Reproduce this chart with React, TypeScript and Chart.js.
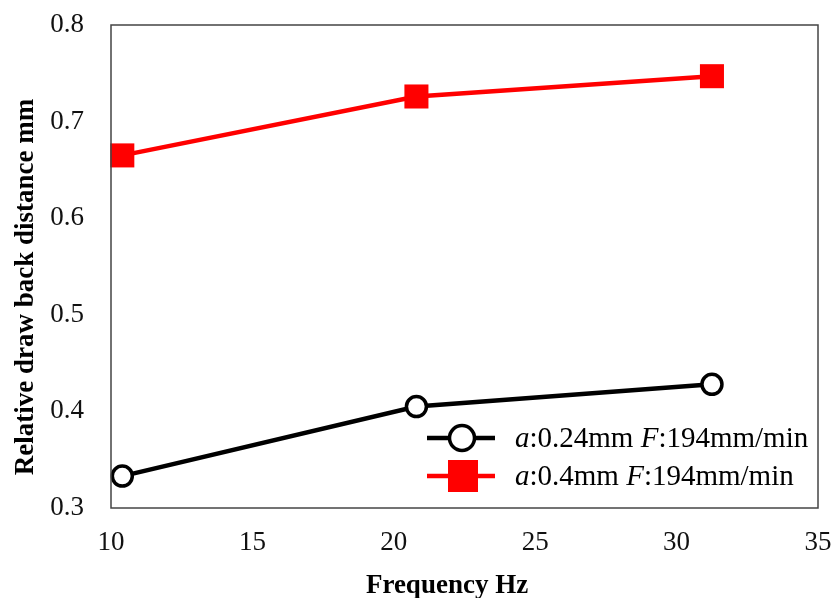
import React, { useEffect, useRef } from "react";
import { Chart, registerables } from "chart.js";

Chart.register(...registerables);

const frequencies = [10.4, 20.8, 31.25];
const seriesDepth = ["0.24", "0.4"];
const seriesFeed = ["194", "194"];
const distance024 = [0.333, 0.405, 0.428];
const distance04 = [0.665, 0.726, 0.747];
const xTickRange = [10, 35, 5];
const yTickRange = [0.3, 0.8, 0.1];
const xTitle = "Frequency Hz";
const yTitle = "Relative draw back distance mm";

const SERIF = '"Liberation Serif", "Times New Roman", serif';

const decorPlugin = {
  id: "decor",
  afterDraw(chart: any) {
    const { ctx, chartArea } = chart;
    ctx.save();
    // plot frame
    ctx.strokeStyle = "#444";
    ctx.lineWidth = 1.5;
    ctx.strokeRect(chartArea.left, chartArea.top, chartArea.right - chartArea.left, chartArea.bottom - chartArea.top);

    // axis titles
    ctx.fillStyle = "#000";
    ctx.font = `bold 27px ${SERIF}`;
    ctx.textAlign = "center";
    ctx.textBaseline = "alphabetic";
    ctx.fillText(xTitle, 447, 593);
    ctx.save();
    ctx.translate(33, 287);
    ctx.rotate(-Math.PI / 2);
    ctx.fillText(yTitle, 0, 0);
    ctx.restore();

    // legend
    const rows = [438, 476];
    chart.data.datasets.forEach((ds: any, i: number) => {
      const y = rows[i];
      ctx.strokeStyle = ds.borderColor;
      ctx.lineWidth = 4.5;
      ctx.beginPath();
      ctx.moveTo(427, y);
      ctx.lineTo(495, y);
      ctx.stroke();
      if (i === 0) {
        ctx.beginPath();
        ctx.arc(462, y, 12.5, 0, Math.PI * 2);
        ctx.fillStyle = "#fff";
        ctx.fill();
        ctx.lineWidth = 3.5;
        ctx.strokeStyle = "#000";
        ctx.stroke();
      } else {
        ctx.fillStyle = ds.borderColor;
        ctx.fillRect(448, y - 16, 30, 32);
      }
      const parts: [string, boolean][] = [
        ["a", true],
        [":" + seriesDepth[i] + "mm ", false],
        ["F", true],
        [":" + seriesFeed[i] + "mm/min", false],
      ];
      let x = 515;
      ctx.textAlign = "left";
      ctx.textBaseline = "middle";
      ctx.fillStyle = "#000";
      for (const [t, it] of parts) {
        ctx.font = `${it ? "italic " : ""}29px ${SERIF}`;
        ctx.fillText(t, x, y + 1);
        x += ctx.measureText(t).width;
      }
    });
    ctx.restore();
  },
};

export default function App() {
  const ref = useRef<HTMLCanvasElement>(null);
  useEffect(() => {
    document.body.style.margin = "0";
    const chart = new Chart(ref.current!, {
      type: "line",
      data: {
        datasets: [
          {
            label: `a:${seriesDepth[0]}mm F:${seriesFeed[0]}mm/min`,
            data: frequencies.map((x, i) => ({ x, y: distance024[i] })),
            borderColor: "#000",
            backgroundColor: "#fff",
            borderWidth: 4.5,
            pointStyle: "circle",
            pointRadius: 10,
            pointBorderWidth: 3.5,
            pointBackgroundColor: "#fff",
            pointBorderColor: "#000",
            clip: false,
          },
          {
            label: `a:${seriesDepth[1]}mm F:${seriesFeed[1]}mm/min`,
            data: frequencies.map((x, i) => ({ x, y: distance04[i] })),
            borderColor: "#ff0000",
            backgroundColor: "#ff0000",
            borderWidth: 4.5,
            pointStyle: "rect",
            pointRadius: 17,
            pointBorderWidth: 0,
            pointBackgroundColor: "#ff0000",
            pointBorderColor: "#ff0000",
            clip: false,
          },
        ],
      },
      options: {
        animation: false,
        responsive: false,
        layout: { padding: { top: 25, right: 13, left: 0, bottom: 0 } },
        plugins: { legend: { display: false }, tooltip: { enabled: false } },
        scales: {
          x: {
            type: "linear",
            min: xTickRange[0],
            max: xTickRange[1],
            ticks: {
              stepSize: xTickRange[2],
              padding: 19,
              color: "#111",
              font: { family: SERIF, size: 27 },
            },
            grid: { display: false, drawTicks: false },
            border: { display: false },
            afterFit: (s: any) => {
              s.height = 90;
              s.paddingLeft = 0;
              s.paddingRight = 0;
              s.paddingTop = 0;
              s.paddingBottom = 0;
            },
          },
          y: {
            type: "linear",
            min: yTickRange[0],
            max: yTickRange[1],
            ticks: {
              stepSize: yTickRange[2],
              padding: 27,
              color: "#111",
              font: { family: SERIF, size: 27 },
              callback: (v: any) => Number(v).toFixed(1),
            },
            grid: { display: false, drawTicks: false },
            border: { display: false },
            afterFit: (s: any) => {
              s.width = 111;
              s.paddingLeft = 0;
              s.paddingRight = 0;
              s.paddingTop = 0;
              s.paddingBottom = 0;
            },
          },
        },
      },
      plugins: [decorPlugin],
    });
    return () => chart.destroy();
  }, []);
  return (
    <div style={{ width: 835, height: 598 }}>
      <canvas ref={ref} width={835} height={598} style={{ display: "block" }} />
    </div>
  );
}
